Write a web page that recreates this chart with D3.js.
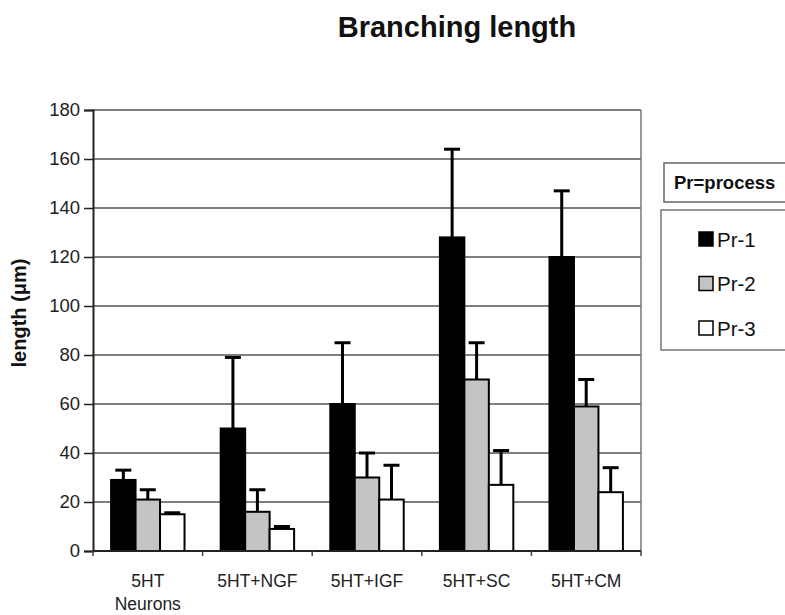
<!DOCTYPE html>
<html>
<head><meta charset="utf-8"></head>
<body style="margin:0;background:#fff;overflow:hidden">
<svg id="mainSvg" width="785" height="615" style="display:block"></svg>
<script src="https://cdn.jsdelivr.net/npm/d3@7"></script>
<script>
const categories = ['5HT\nNeurons', '5HT+NGF', '5HT+IGF', '5HT+SC', '5HT+CM']
const seriesNames = ['Pr-1', 'Pr-2', 'Pr-3']
const pr1 = [29, 50, 60, 128, 120]
const pr2 = [21, 16, 30, 70, 59]
const pr3 = [15, 9, 21, 27, 24]
const pr1Err = [4, 29, 25, 36, 27]
const pr2Err = [4, 9, 10, 15, 11]
const pr3Err = [0.6, 1, 14, 14, 10]
const yTicks = [0, 20, 40, 60, 80, 100, 120, 140, 160, 180]
const colors = ['#000', '#c4c4c4', '#fff']

const svg = d3.select('#mainSvg')
const font = 'Liberation Sans, Arial, sans-serif'
const margin = { top: 110, left: 93, right: 144, bottom: 64 }
const innerWidth = 785 - margin.left - margin.right
const innerHeight = 615 - margin.top - margin.bottom

const values = [pr1, pr2, pr3], errs = [pr1Err, pr2Err, pr3Err]

const xScale = d3.scaleBand().domain(d3.range(categories.length))
    .range([0, innerWidth]).paddingInner(0.33).paddingOuter(0.165)
const xSub = d3.scaleBand().domain(d3.range(seriesNames.length)).range([0, xScale.bandwidth()])
const yScale = d3.scaleLinear().domain([0, 180]).range([innerHeight, 0])

// title
svg.append('text').attr('x', 457).attr('y', 37).attr('text-anchor', 'middle')
    .attr('font-family', font).attr('font-weight', 'bold').attr('font-size', 29)
    .attr('fill', '#111').text('Branching length')

const g = svg.append('g').attr('transform', `translate(${margin.left}, ${margin.top})`)

// grid
g.selectAll('.grid').data(yTicks.slice(1)).join('line')
    .attr('x1', 0).attr('x2', innerWidth)
    .attr('y1', d => yScale(d)).attr('y2', d => yScale(d))
    .attr('stroke', '#555').attr('stroke-width', 1.5)
g.append('line').attr('x1', innerWidth).attr('x2', innerWidth)
    .attr('y1', 0).attr('y2', innerHeight).attr('stroke', '#777').attr('stroke-width', 1.5)

// bars
const groups = g.selectAll('.grp').data(categories).join('g')
    .attr('transform', (d, i) => `translate(${xScale(i)}, 0)`)
seriesNames.forEach((s, si) => {
    groups.append('rect')
        .attr('x', (d, i) => xSub(si))
        .attr('y', (d, i) => yScale(values[si][i]))
        .attr('width', xSub.bandwidth())
        .attr('height', (d, i) => innerHeight - yScale(values[si][i]))
        .attr('fill', colors[si]).attr('stroke', '#000').attr('stroke-width', 2)
    const cx = xSub(si) + xSub.bandwidth() / 2
    groups.append('line')
        .attr('x1', cx).attr('x2', cx)
        .attr('y1', (d, i) => yScale(values[si][i]))
        .attr('y2', (d, i) => yScale(values[si][i] + errs[si][i]))
        .attr('stroke', '#000').attr('stroke-width', 3)
    groups.append('line')
        .attr('x1', cx - 8).attr('x2', cx + 8)
        .attr('y1', (d, i) => yScale(values[si][i] + errs[si][i]))
        .attr('y2', (d, i) => yScale(values[si][i] + errs[si][i]))
        .attr('stroke', '#000').attr('stroke-width', 3)
})

// y axis
const yAxis = g.append('g').call(d3.axisLeft(yScale).tickValues(yTicks).tickSize(9).tickPadding(4))
yAxis.select('.domain').attr('stroke', '#222').attr('stroke-width', 2)
yAxis.selectAll('.tick line').attr('stroke', '#222').attr('stroke-width', 1.5)
yAxis.selectAll('text').attr('font-family', font).attr('font-size', 18.5).attr('fill', '#222')

// x axis
const xAxisG = g.append('g').attr('transform', `translate(0, ${innerHeight})`)
xAxisG.append('line').attr('x1', 0).attr('x2', innerWidth).attr('stroke', '#222').attr('stroke-width', 2)
xAxisG.selectAll('.xt').data(d3.range(categories.length + 1)).join('line')
    .attr('x1', d => d * xScale.step()).attr('x2', d => d * xScale.step())
    .attr('y1', 0).attr('y2', 5).attr('stroke', '#444').attr('stroke-width', 1.5)
const xl = xAxisG.selectAll('.xl').data(categories).join('text')
    .attr('x', (d, i) => xScale(i) + xScale.bandwidth() / 2)
    .attr('y', 36).attr('text-anchor', 'middle')
    .attr('font-family', font).attr('font-size', 17.5).attr('fill', '#222')
xl.each(function (d) {
    const t = d3.select(this)
    d.split('\n').forEach((line, k) => {
        t.append('tspan').attr('x', t.attr('x')).attr('dy', k ? 23 : 0).text(line)
    })
})

// y title
svg.append('text').attr('transform', 'translate(26, 313) rotate(-90)')
    .attr('text-anchor', 'middle').attr('font-family', font).attr('font-weight', 'bold')
    .attr('font-size', 20).attr('fill', '#111').text('length (\u03bcm)')

// legend
svg.append('rect').attr('x', 664).attr('y', 163).attr('width', 130).attr('height', 39)
    .attr('fill', '#fff').attr('stroke', '#666').attr('stroke-width', 1.5)
svg.append('text').attr('x', 674).attr('y', 189).attr('font-family', font).attr('font-weight', 'bold')
    .attr('font-size', 18.5).attr('fill', '#111').text('Pr=process')
svg.append('rect').attr('x', 661).attr('y', 210).attr('width', 130).attr('height', 140)
    .attr('fill', '#fff').attr('stroke', '#777').attr('stroke-width', 1.5)
const leg = svg.selectAll('.leg').data(seriesNames).join('g')
    .attr('transform', (d, i) => `translate(699, ${239 + i * 44.5})`)
leg.append('rect').attr('x', 0).attr('y', -7).attr('width', 14).attr('height', 14)
    .attr('fill', (d, i) => colors[i]).attr('stroke', '#000').attr('stroke-width', 1.5)
leg.append('text').attr('x', 18).attr('y', 7.5).attr('font-family', font).attr('font-size', 20.5)
    .attr('fill', '#111').text(d => d)
</script>
</body>
</html>
